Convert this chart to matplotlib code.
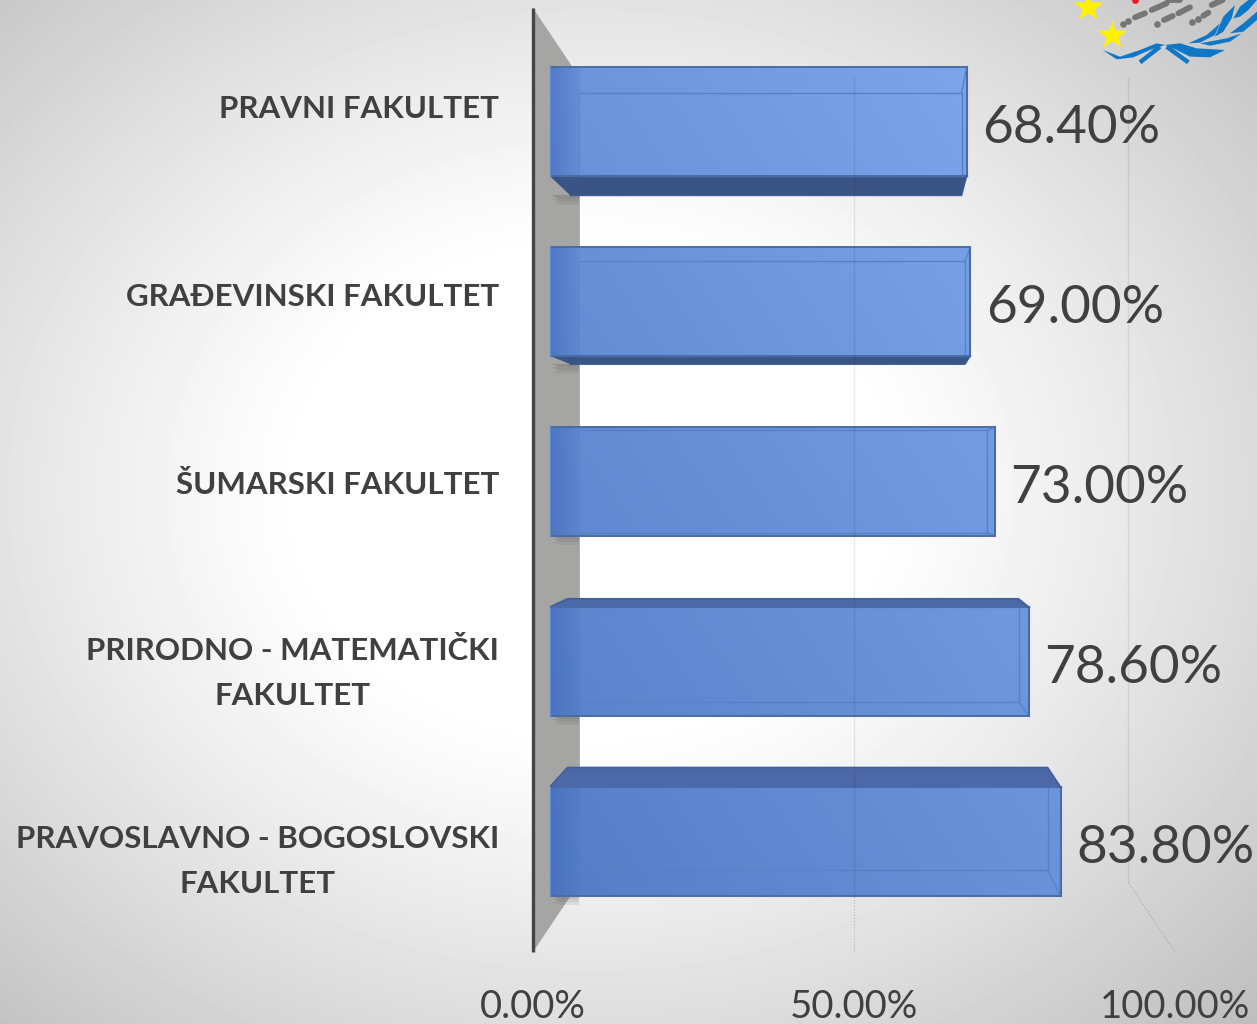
import numpy as np
import matplotlib
matplotlib.use("Agg")
import matplotlib.pyplot as plt
from matplotlib.patches import Polygon
from matplotlib.path import Path

# ---------- data ----------
categories = ["PRAVNI FAKULTET", "GRAĐEVINSKI FAKULTET", "ŠUMARSKI FAKULTET",
              "PRIRODNO - MATEMATIČKI\nFAKULTET", "PRAVOSLAVNO - BOGOSLOVSKI\nFAKULTET"]
values = [68.4, 69.0, 73.0, 78.6, 83.8]
value_labels = ["68.40%", "69.00%", "73.00%", "78.60%", "83.80%"]
x_ticks = [0, 50, 100]
x_tick_labels = ["0.00%", "50.00%", "100.00%"]

W, H = 1257, 1024
plt.rcParams['font.family'] = ['Lato', 'DejaVu Sans']
fig = plt.figure(figsize=(W / 100, H / 100), dpi=100)
TXT = "#404040"

def rect(x0, x1, ytop, ybot):
    return [x0 / W, 1 - ybot / H, (x1 - x0) / W, (ybot - ytop) / H]

# ---------- background ----------
bg = fig.add_axes([0, 0, 1, 1], zorder=0)
yy, xx = np.mgrid[0:H, 0:W]
r = np.hypot((xx - 590) / 800, (yy - 490) / 660)
shade = 255 - 80 * np.clip((r - 0.36) / 0.95, 0, 1) ** 1.15
bg.imshow(shade, cmap="gray", vmin=0, vmax=255, aspect="auto", extent=(0, W, H, 0))
bg.axis("off")

# ---------- frame axes: side wall, floor, tick labels ----------
fr = fig.add_axes(rect(533, 1175, 8, 952), zorder=1)
fr.patch.set_visible(False)
fr.set_xlim(0, 100)
fr.set_ylim(0, 1)
for s in fr.spines.values():
    s.set_visible(False)
DEPTH_X, DEPTH_Y, BACK_SCALE = 7.3, 0.0741, 0.854
tf = fr.get_xaxis_transform()
fr.add_patch(Polygon([(0, 0), (DEPTH_X, DEPTH_Y), (DEPTH_X, 1 - DEPTH_Y), (0, 1)],
                     closed=True, fc="#a5a5a3", ec="none", transform=fr.transData))
fr.plot([0, 0], [0, 1], color="#454545", lw=2.4, solid_capstyle="butt", clip_on=False)
fr.set_xticks(x_ticks, x_tick_labels, fontsize=27.5, color=TXT)
fr.tick_params(axis="x", length=0, pad=27)
fr.set_yticks([])

# label axis (category labels have their own spacing)
lab = fig.add_axes(rect(533, 1175, 15.5, 955.5), zorder=1)
lab.patch.set_visible(False)
lab.set_xlim(0, 1)
lab.set_ylim(4 + 94 / 188, -0.5)
for s in lab.spines.values():
    s.set_visible(False)
lab.set_xticks([])
lab.set_yticks(range(len(categories)), categories, fontsize=22.5, fontweight="bold",
               color=TXT, multialignment="center", linespacing=1.72, va="center")
lab.tick_params(axis="y", length=0, pad=24.5)

# ---------- bars ----------
ax = fig.add_axes(rect(549.5, 1159.5, 31.5, 931.5), zorder=2)
ax.patch.set_visible(False)
ax.set_xlim(0, 100)
ax.set_ylim(4.5, -0.5)
ax.axis("off")

BAR_H = 0.603
BACK_H = 0.572
BACK_X0, BACK_XS, BACK_YS = 4.9, 0.916, 0.9375

gx, gy = np.meshgrid(np.linspace(0, 1, 128), np.linspace(0, 1, 128))
gt = np.clip(0.55 * gx + 0.55 * (1 - gy) - 0.05, 0, 1)[..., None]
c_lo = np.array([0x57, 0x7f, 0xc8]) / 255
c_hi = np.array([0x82, 0xab, 0xf0]) / 255
grad = c_lo + (c_hi - c_lo) * gt

# darker-to-clear ramp for the left side of each bar
side = np.zeros((2, 64, 4))
side[..., :3] = np.array([0x3b, 0x68, 0xb4]) / 255
side[..., 3] = np.linspace(0.55, 0.12, 64)

bars = ax.barh(range(len(values)), values, height=BAR_H, color="#6890d8", edgecolor="none", zorder=2)
for i, (v, b) in enumerate(zip(values, bars)):
    ft, fb = i - BAR_H / 2, i + BAR_H / 2
    cy = 2 + (i - 2) * BACK_YS
    bt, bb = cy - BACK_H / 2, cy + BACK_H / 2
    bl, br = BACK_X0, BACK_X0 + BACK_XS * v
    face = Path([(0, ft), (v, ft), (v, fb), (0, fb), (0, ft)])

    im = ax.imshow(grad, extent=(0, 100, 4.5, -0.5), aspect="auto", zorder=2.1, interpolation="bilinear")
    im.set_clip_path(face, ax.transData)

    # left side band
    ax.imshow(side, extent=(0, bl, fb, ft), aspect="auto", zorder=2.2, interpolation="bilinear")
    # under side (upper bars) / top side (lower bars)
    if bb > fb + 0.005:
        ax.add_patch(Polygon([(0, fb), (v, fb), (br, bb), (bl * 0.7, bb)], closed=True,
                             fc="#3a5486", ec="none", zorder=2.3))
    if bt < ft - 0.005:
        ax.add_patch(Polygon([(0, ft), (bl * 0.6, bt), (br, bt), (v, ft)], closed=True,
                             fc="#4c68a8", ec="none", zorder=2.3))
    # inner back-face edges
    inner_top = max(ft, bt)
    inner_bot = min(fb, bb)
    ax.plot([bl, br, br, bl], [inner_top, inner_top, inner_bot, inner_bot],
            color="#5681c8", lw=1.0, zorder=2.4)
    ax.plot([bl, bl], [inner_top, inner_bot], color="#5681c8", lw=0.6, alpha=0.5, zorder=2.4)
    ax.plot([br, v], [inner_top, ft], color="#5681c8", lw=1.0, zorder=2.4)
    ax.plot([br, v], [inner_bot, fb], color="#5681c8", lw=1.0, zorder=2.4)
    # outline
    ax.plot([v, v], [ft, fb], color="#4a6ca6", lw=1.5, zorder=2.5)
    ax.plot([0, v], [ft, ft], color="#4a6ca6", lw=1.4, zorder=2.5)
    ax.plot([0, v], [fb, fb], color="#4a6ca6", lw=1.4, zorder=2.5)
    ax.plot([0, 0], [ft, fb], color="#5d88cf", lw=1.0, zorder=2.5)
    if bt < ft - 0.005:
        ax.plot([0, bl * 0.6, br, v], [ft, bt, bt, ft], color="#41609a", lw=1.2, zorder=2.5)
    if bb > fb + 0.005:
        ax.plot([bl * 0.7, br, v], [bb, bb, fb], color="#3a5a92", lw=1.0, zorder=2.5)
    # soft wall shadow beneath the bar
    for k, a in enumerate([0.32, 0.22, 0.12]):
        ax.add_patch(Polygon([(0.4, max(fb, bb) + 0.018 * k), (bl, max(fb, bb) + 0.018 * k),
                              (bl, max(fb, bb) + 0.018 * (k + 1)), (1.6, max(fb, bb) + 0.018 * (k + 1))],
                             closed=True, fc="#5c5c5c", ec="none", alpha=a, zorder=1.5))

    ax.annotate(value_labels[i], xy=(v, i), xytext=(11, -5), textcoords="offset points",
                ha="left", va="center", fontsize=38.2, color=TXT, annotation_clip=False, zorder=5)

# gridlines drawn through the bars
for t in x_ticks[1:]:
    xb = DEPTH_X + BACK_SCALE * t
    ax.plot([xb, xb], [1 - DEPTH_Y, DEPTH_Y], transform=tf, color="black", alpha=0.08,
            lw=1.0, clip_on=False, zorder=4)
    ax.plot([xb, t], [DEPTH_Y, 0], transform=tf, color="black", alpha=0.2, ls=":",
            lw=0.8, clip_on=False, zorder=4)

ax.set_xlim(0, 100)
ax.set_ylim(4.5, -0.5)

# ---------- emblem in the corner ----------
top = fig.add_axes([0, 0, 1, 1], zorder=3)
top.set_xlim(0, W)
top.set_ylim(H, 0)
top.axis("off")

def em(pts):
    return [(1040 + a / 3, b / 3) for a, b in pts]

top.plot(*zip(*em([(145, 20), (215, 105)])), ls="none", marker="*", ms=22, color="#fff200", mec="none")
BLUE = "#0f78c6"
GRAY = "#767676"
for seg in [[(285, 52), (315, 40)], [(335, 30), (380, 10)], [(372, 60), (398, 48)], [(415, 40), (450, 22)],
            [(490, 47), (505, 38)], [(515, 15), (548, 0)], [(385, 0), (420, 0)]]:
    top.plot(*zip(*em(seg)), color=GRAY, lw=4.2, solid_capstyle="round")
top.plot(*zip(*em([(248, 72), (265, 62), (350, 72), (455, 67), (473, 57)])), ls="none", marker="o", ms=4.8, color=GRAY, mec="none")
top.plot(*zip(*em([(285, 0)])), marker="o", ms=5, color="#e8202a", ls="none", mec="none")
wreath = [
    [(188, 150), (240, 170), (300, 150), (350, 130), (375, 135), (330, 150), (280, 172), (230, 178)],
    [(375, 135), (420, 130), (470, 145), (555, 150), (510, 172), (450, 170), (410, 150)],
    [(445, 130), (500, 105), (540, 70), (525, 105), (480, 128)],
    [(480, 130), (560, 115), (605, 100), (570, 125), (510, 137)],
    [(525, 110), (550, 50), (585, 15), (575, 55), (550, 95)],
    [(570, 100), (610, 70), (651, 35), (651, 60), (610, 95)],
    [(580, 55), (600, 20), (625, 0), (651, 0), (625, 30), (600, 50)],
]
for pts in wreath:
    top.add_patch(Polygon(em(pts), closed=True, fc=BLUE, ec="none"))
top.plot(*zip(*em([(300, 187), (360, 140)])), color=BLUE, lw=3.2, solid_capstyle="butt")
top.plot(*zip(*em([(445, 187), (380, 140)])), color=BLUE, lw=3.2, solid_capstyle="butt")

fig.savefig("out.png", dpi=100)
